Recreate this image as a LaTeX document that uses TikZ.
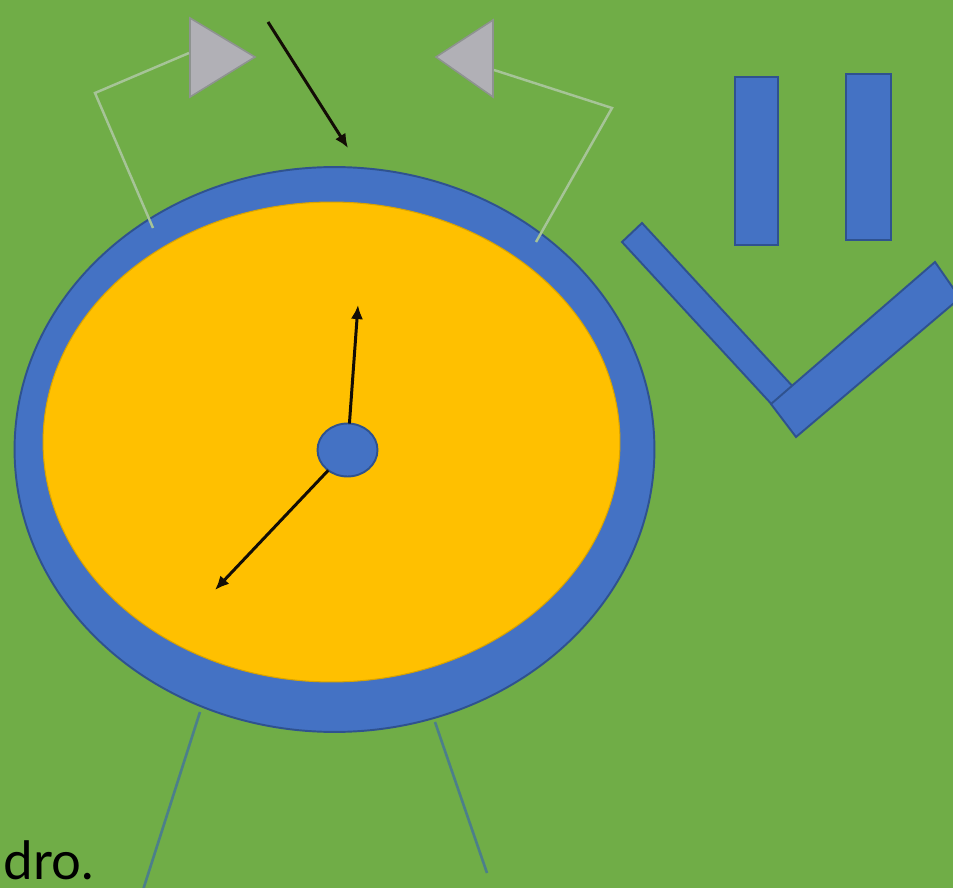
\documentclass[tikz,border=0pt]{standalone}
\usepackage{fontspec}
\setmainfont{Lato}
\usetikzlibrary{shapes.geometric,arrows.meta}
\definecolor{fondo}{HTML}{70AD47}
\definecolor{azulc}{HTML}{4472C4}
\definecolor{azulb}{HTML}{2F528F}
\definecolor{amarillo}{HTML}{FFC000}
\definecolor{grisc}{HTML}{B1B0B6}
\definecolor{grisb}{HTML}{8E9390}
\definecolor{cablec}{HTML}{A6C497}
\definecolor{patac}{HTML}{4C7F8A}
\begin{document}
\begin{tikzpicture}[x=0.02cm, y=-0.02cm,
    azul/.style={fill=azulc, draw=azulb, line width=1.1pt},
    gris/.style={fill=grisc, draw=grisb, line width=0.9pt},
    cable/.style={draw=cablec, line width=1.4pt},
    pata/.style={draw=patac, line width=1.5pt},
    aguja/.style={draw=black!90!brown, line width=1.7pt, -{Latex[length=8pt,width=7pt]}},
    every node/.style={inner sep=0pt, outer sep=0pt}]
  % Marco
  \useasboundingbox (0,0) rectangle (953,888);
  \fill[fondo] (0,0) rectangle (953,888);
  \clip (0,0) rectangle (953,888);
  % Patas
  \draw[pata] (200,712) -- (143,890);
  \draw[pata] (435,722) -- (487,873);
  % Reloj (aro, esfera, eje)
  \node[ellipse, azul, minimum width=12.8cm, minimum height=11.3cm] (aro) at (334.5,449.5) {};
  \node[ellipse, fill=amarillo, draw=amarillo!85!black, line width=0.6pt,
        minimum width=11.54cm, minimum height=9.6cm] (esfera) at (331.5,442) {};
  \coordinate (doce) at (358,305);
  \coordinate (siete) at (215,590);
  \node[ellipse, azul, minimum width=1.2cm, minimum height=1.06cm] (eje) at (347.5,450) {};
  \draw[aguja] (eje) -- (doce);
  \draw[aguja] (eje) -- (siete);
  % Flecha superior
  \coordinate (fini) at (268,22);
  \coordinate (ffin) at (348,148);
  \draw[aguja] (fini) -- (ffin);
  % Triangulos y cables
  \draw[gris] (190,18) -- (255,57) -- (190,97) -- cycle;
  \draw[gris] (493,20) -- (436,57) -- (493,97) -- cycle;
  \draw[cable] (189,53) -- (95,93) -- (153,228);
  \draw[cable] (494,70) -- (612,108) -- (536,242);
  % Barras
  \draw[azul] (735,77) rectangle (778,245);
  \draw[azul] (846,74) rectangle (891,240);
  % V
  \draw[azul] (622,242) -- (642,223) -- (796,390) -- (776,409) -- cycle;
  \draw[azul] (796,437) -- (771,404) -- (935,262) -- (960,298) -- cycle;
  % Texto
  \node[anchor=base west, font=\fontsize{30}{36}\selectfont] (txt) at (4,879) {dro.};
\end{tikzpicture}
\end{document}
